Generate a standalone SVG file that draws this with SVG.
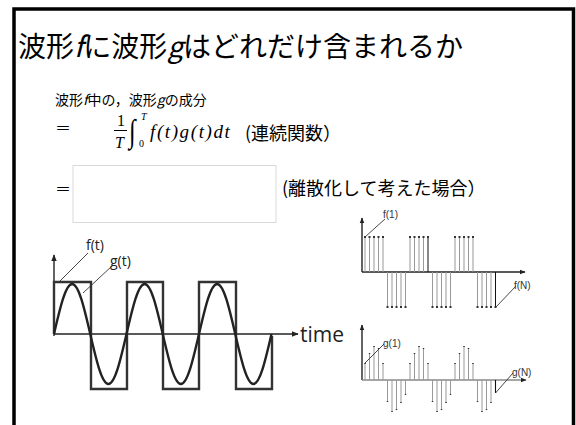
<svg xmlns="http://www.w3.org/2000/svg" width="576" height="425" viewBox="0 0 576 425">
<defs>
<style>
.jp{font-family:"Noto Sans CJK JP","Noto Sans",sans-serif;fill:#000}
.math{font-family:"Liberation Serif","Times New Roman",serif;fill:#000}
.lbl{font-family:"Open Sans","Liberation Sans",sans-serif;fill:#222}
.sm{font-family:"Liberation Sans",sans-serif;font-size:10px;fill:#333}
.ax{stroke:#222;stroke-width:1.4;fill:none}
.stem{stroke:#999;stroke-width:1;fill:none}
.dot{stroke:#333;stroke-width:2;stroke-linecap:square;fill:none}
.lead{stroke:#333;stroke-width:0.9;fill:none}
</style>
<marker id="ah" viewBox="0 0 10 10" refX="9" refY="5" markerWidth="7" markerHeight="7" markerUnits="userSpaceOnUse" orient="auto"><path d="M0,1 L10,5 L0,9 z" fill="#222"/></marker>
<marker id="ahs" viewBox="0 0 10 10" refX="9" refY="5" markerWidth="6" markerHeight="6" markerUnits="userSpaceOnUse" orient="auto"><path d="M0,1 L10,5 L0,9 z" fill="#222"/></marker>
</defs>
<rect width="576" height="425" fill="#fff"/>
<path d="M14,425 V9 H573.5 V425" fill="none" stroke="#000" stroke-width="3.5"/>

<g id="title"><text class="jp" x="18" y="57" font-size="28">波形<tspan font-style="italic">f</tspan>に波形<tspan font-style="italic">g</tspan>はどれだけ含まれるか</text></g>

<g id="subtitle"><text class="jp" x="55" y="105" font-size="14">波形<tspan font-style="italic">f</tspan>中の，波形<tspan font-style="italic">g</tspan>の成分</text></g>

<g id="formula-continuous">
<text class="jp" x="55" y="134" font-size="16">＝</text>
<text class="math" x="117" y="126" font-size="16">1</text>
<line x1="114" y1="130.5" x2="127" y2="130.5" stroke="#000" stroke-width="1"/>
<text class="math" x="115" y="148" font-size="16" font-style="italic">T</text>
<text class="math" x="0" y="0" font-size="24" font-style="italic" transform="translate(129,142) scale(1,1.35)">∫</text>
<text class="math" x="141" y="120" font-size="10" font-style="italic">T</text>
<text class="math" x="139" y="147" font-size="10">0</text>
<text class="math" x="150" y="138" font-size="19" font-style="italic" letter-spacing="1.6">f(t)g(t)dt</text>
<text class="jp" x="245" y="140" font-size="18">(連続関数）</text>
</g>

<g id="formula-discrete">
<text class="jp" x="55" y="195" font-size="16">＝</text>
<rect x="73" y="165.5" width="203" height="57" fill="#fff" stroke="#d9d9d9" stroke-width="1"/>
<text class="jp" x="282" y="195" font-size="18">(離散化して考えた場合）</text>
</g>

<g id="continuous-plot">
<line class="ax" x1="54" y1="336" x2="54" y2="255" marker-end="url(#ah)"/>
<line class="ax" x1="54" y1="334" x2="298" y2="334" marker-end="url(#ah)"/>
<path d="M54,334 V282 H91 V389 H127 V282 H163 V389 H199 V282 H236 V389 H272 V336" fill="none" stroke="#333" stroke-width="2.4"/>
<path d="M54,334 c6.06,-26.26 11.6,-50 18.125,-50 c6.525,0 12.065,23.74 18.125,50 c6.06,26.26 11.6,50 18.125,50 c6.525,0 12.065,-23.74 18.125,-50 c6.06,-26.26 11.6,-50 18.125,-50 c6.525,0 12.065,23.74 18.125,50 c6.06,26.26 11.6,50 18.125,50 c6.525,0 12.065,-23.74 18.125,-50 c6.06,-26.26 11.6,-50 18.125,-50 c6.525,0 12.065,23.74 18.125,50 c6.06,26.26 11.6,50 18.125,50 c6.525,0 12.065,-23.74 18.125,-50" fill="none" stroke="#222" stroke-width="2.4"/>
<line class="lead" x1="88" y1="253" x2="60" y2="281"/>
<line class="lead" x1="112" y1="266" x2="83" y2="293"/>
<text class="lbl" x="86" y="250" font-size="14">f(t)</text>
<text class="lbl" x="110" y="266" font-size="14">g(t)</text>
<text class="lbl" x="300" y="342" font-size="21">time</text>
</g>

<g id="discrete-f">
<line class="ax" x1="362" y1="272" x2="362" y2="218" marker-end="url(#ahs)" stroke-width="1.1"/>
<line class="ax" x1="362" y1="272" x2="525" y2="272" marker-end="url(#ahs)" stroke-width="1.1"/>
<path class="stem" d="M365,272V237M369.5,272V237M374,272V237M378.5,272V237M383,272V237M387.5,272V307M392,272V307M396.5,272V307M401,272V307M405.5,272V307M410,272V237M414.5,272V237M419,272V237M423.5,272V237M432.5,272V307M437,272V307M441.5,272V307M446,272V307M450.5,272V307M455,272V237M459.5,272V237M464,272V237M468.5,272V237M473,272V237M477.5,272V307M482,272V307M486.5,272V307M491,272V307"/>
<path d="M428,272V237M495.5,272V307" stroke="#111" stroke-width="1" fill="none"/>
<path class="dot" d="M365,237h0M369.5,237h0M374,237h0M378.5,237h0M383,237h0M387.5,307h0M392,307h0M396.5,307h0M401,307h0M405.5,307h0M410,237h0M414.5,237h0M419,237h0M423.5,237h0M428,237h0M432.5,307h0M437,307h0M441.5,307h0M446,307h0M450.5,307h0M455,237h0M459.5,237h0M464,237h0M468.5,237h0M473,237h0M477.5,307h0M482,307h0M486.5,307h0M491,307h0M495.5,307h0"/>
<line class="lead" x1="385" y1="219" x2="365" y2="237"/>
<line class="lead" x1="516" y1="286" x2="496" y2="307"/>
<text class="sm" x="383" y="218">f(1)</text>
<text class="sm" x="514" y="289">f(N)</text>
</g>

<g id="discrete-g">
<line class="ax" x1="362" y1="380" x2="362" y2="325" marker-end="url(#ahs)" stroke-width="1.1"/>
<line x1="362" y1="380" x2="526" y2="380" stroke="#888" stroke-width="1.6" marker-end="url(#ahs)"/>
<path class="stem" d="M365,380V363M369.5,380V353M374,380V346M378.5,380V348M383,380V363M387.5,380V402M392,380V412M396.5,380V410M401,380V403M405.5,380V395M410,380V363M414.5,380V353M419,380V346M423.5,380V348M428,380V363M432.5,380V402M437,380V412M441.5,380V410M446,380V403M450.5,380V395M455,380V363M459.5,380V353M464,380V346M468.5,380V348M473,380V363M477.5,380V402M482,380V412M486.5,380V410M491,380V403"/>
<path d="M495.5,380V393" stroke="#111" stroke-width="1.1" fill="none"/>
<path stroke="#333" stroke-width="1.5" fill="none" d="M365,363v1M369.5,353v1M374,346v1M378.5,348v1M383,363v1M387.5,402v-1M392,412v-1M396.5,410v-1M401,403v-1M405.5,395v-1M410,363v1M414.5,353v1M419,346v1M423.5,348v1M428,363v1M432.5,402v-1M437,412v-1M441.5,410v-1M446,403v-1M450.5,395v-1M455,363v1M459.5,353v1M464,346v1M468.5,348v1M473,363v1M477.5,402v-1M482,412v-1M486.5,410v-1M491,403v-1"/>
<line class="lead" x1="384" y1="344" x2="365" y2="363"/>
<line class="lead" x1="513" y1="373" x2="495.5" y2="393"/>
<text class="sm" x="383" y="347">g(1)</text>
<text class="sm" x="512" y="376">g(N)</text>
</g>
</svg>
